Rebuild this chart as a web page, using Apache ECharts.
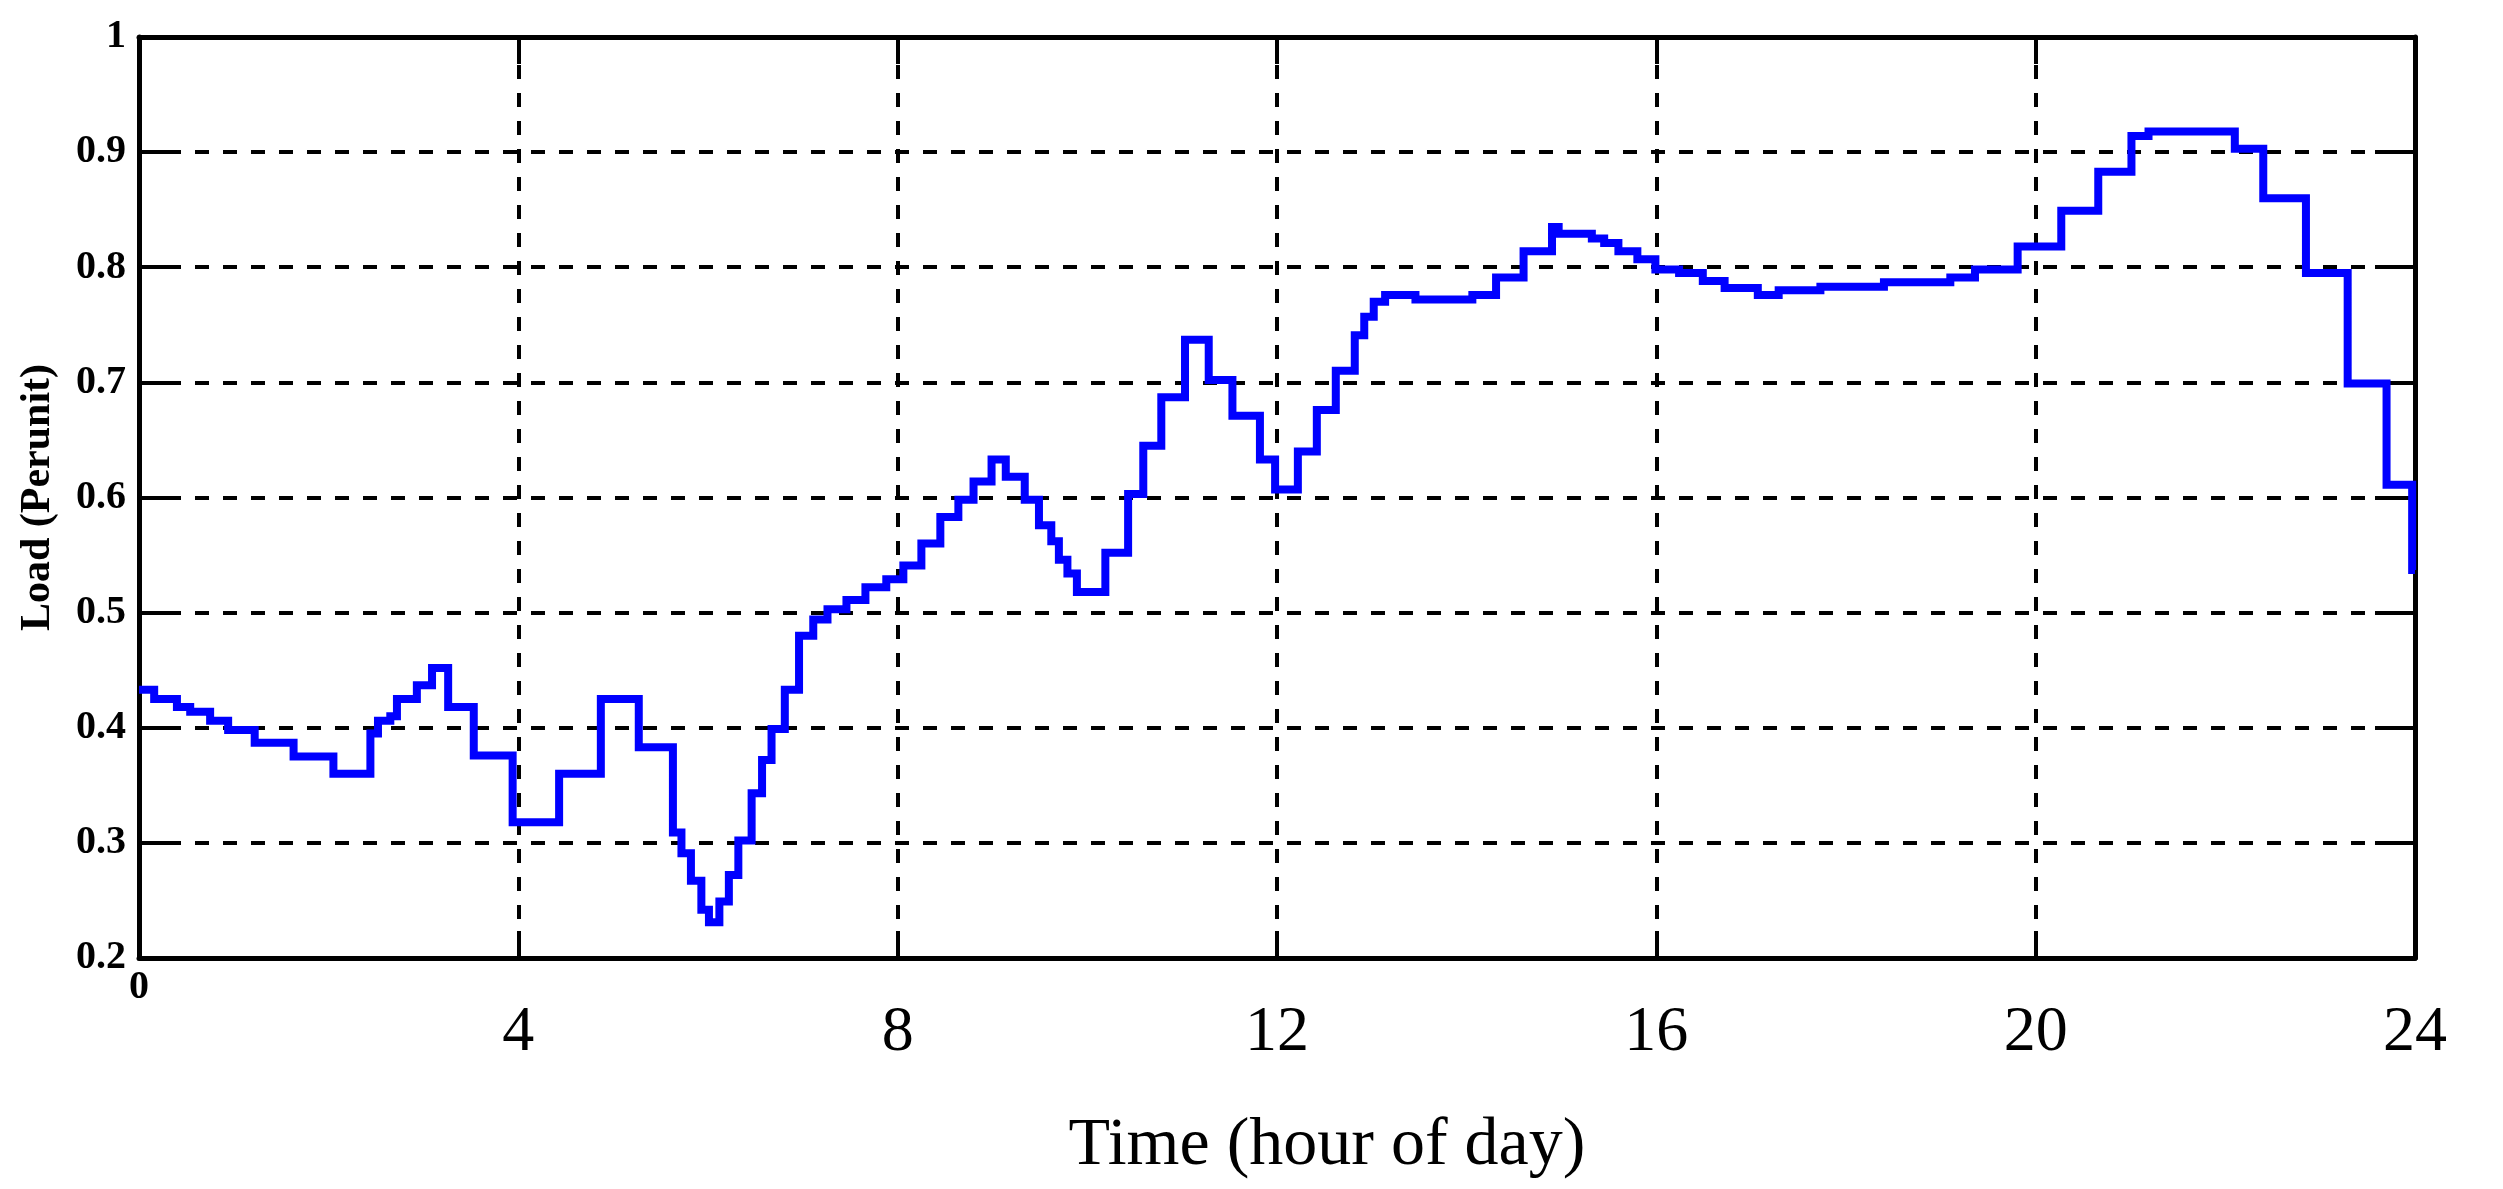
<!DOCTYPE html>
<html>
<head>
<meta charset="utf-8">
<title>Load profile</title>
<script src="https://cdn.jsdelivr.net/npm/echarts@6/dist/echarts.min.js"></script>
<style>
  html, body { margin: 0; padding: 0; background: #fff; }
  #chart { width: 2503px; height: 1189px; }
</style>
</head>
<body>
<div id="chart"></div>
<script>
  // hour at which each step starts, and the load held until the next hour
  const hours = [
    0, 0.16, 0.40, 0.54, 0.75, 0.94, 1.22, 1.63, 2.05, 2.44, 2.52, 2.65, 2.72, 2.93, 3.09, 3.26,
    3.53, 3.94, 4.43, 4.87, 5.27, 5.63, 5.72, 5.82, 5.93, 6.01, 6.12, 6.22, 6.32, 6.46, 6.57, 6.67,
    6.81, 6.96, 7.11, 7.26, 7.46, 7.66, 7.88, 8.06, 8.25, 8.45, 8.64, 8.80, 8.99, 9.14, 9.34, 9.49,
    9.62, 9.70, 9.79, 9.89, 10.19, 10.43, 10.59, 10.78, 11.03, 11.28, 11.53, 11.82, 11.98, 12.22,
    12.42, 12.62, 12.82, 12.92, 13.02, 13.14, 13.46, 14.06, 14.31, 14.60, 14.90, 14.97, 15.32, 15.45,
    15.60, 15.80, 15.99, 16.24, 16.49, 16.72, 17.07, 17.29, 17.73, 18.40, 19.10, 19.36, 19.81, 20.27,
    20.66, 21.01, 21.19, 22.10, 22.40, 22.85, 23.29, 23.70, 23.97, 24.00
  ];
  const loads = [
    0.433, 0.425, 0.418, 0.414, 0.406, 0.398, 0.387, 0.375, 0.360, 0.395, 0.406, 0.410, 0.425, 0.437, 0.452, 0.418,
    0.376, 0.318, 0.360, 0.425, 0.383, 0.309, 0.291, 0.267, 0.242, 0.231, 0.249, 0.272, 0.302, 0.343, 0.372, 0.399,
    0.433, 0.480, 0.494, 0.503, 0.511, 0.522, 0.529, 0.541, 0.560, 0.583, 0.598, 0.614, 0.633, 0.618, 0.598, 0.576,
    0.562, 0.546, 0.534, 0.518, 0.552, 0.603, 0.645, 0.687, 0.737, 0.702, 0.671, 0.633, 0.607, 0.640,
    0.676, 0.710, 0.741, 0.757, 0.770, 0.776, 0.772, 0.776, 0.791, 0.814, 0.835, 0.829, 0.825, 0.821,
    0.814, 0.807, 0.798, 0.795, 0.788, 0.782, 0.776, 0.780, 0.783, 0.787, 0.791, 0.798, 0.818, 0.849,
    0.883, 0.914, 0.918, 0.903, 0.860, 0.795, 0.699, 0.611, 0.537, 0.537
  ];
  const xTicks = [0, 4, 8, 12, 16, 20, 24];
  const yTicks = [0.2, 0.3, 0.4, 0.5, 0.6, 0.7, 0.8, 0.9, 1];

  const serif = '"Liberation Serif", "DejaVu Serif", serif';
  const gridLine = { show: true, lineStyle: { color: '#000', width: 4, type: [14, 14] } };
  const xRange = { type: 'value', min: xTicks[0], max: xTicks[xTicks.length - 1], interval: 4 };
  const yRange = { type: 'value', min: yTicks[0], max: yTicks[yTicks.length - 1], interval: 0.1 };

  // frame axis: line + short solid ticks pointing into the plot, nothing else.
  // onZero must be off, or the right axis snaps onto x = 0
  function frameAxis(range, position, tickLen) {
    return Object.assign({}, range, {
      position: position,
      axisLine: { show: true, onZero: false, lineStyle: { color: '#000', width: 5 } },
      axisTick: { show: true, inside: true, length: tickLen, lineStyle: { color: '#000', width: 4 } },
      splitLine: { show: false },
      axisLabel: { show: false },
    });
  }

  const chart = echarts.init(document.getElementById('chart'));
  chart.setOption({
    backgroundColor: '#fff',
    animation: false,
    grid: { left: 139, right: 88, top: 37, bottom: 231 },
    xAxis: [
      Object.assign({}, xRange, {
        position: 'bottom',
        axisLine: { show: false, onZero: false },
        axisTick: { show: false },
        splitLine: gridLine,
        axisLabel: {
          margin: 43,
          color: '#000',
          fontFamily: serif,
          fontSize: 64,
          formatter: (v) => (v === 0 ? '' : String(v)),
        },
        name: 'Time (hour of day)',
        nameLocation: 'middle',
        nameGap: 154,
        nameTextStyle: { color: '#000', fontFamily: serif, fontSize: 68, padding: [0, 0, 0, 100] },
      }),
      // small bold "0" at the origin
      Object.assign({}, xRange, {
        position: 'bottom',
        axisLine: { show: false, onZero: false },
        axisTick: { show: false },
        splitLine: { show: false },
        axisLabel: {
          margin: 10,
          color: '#000',
          fontFamily: serif,
          fontWeight: 'bold',
          fontSize: 40,
          formatter: (v) => (v === 0 ? '0' : ''),
        },
      }),
      frameAxis(xRange, 'bottom', 27),
      frameAxis(xRange, 'top', 27),
    ],
    yAxis: [
      Object.assign({}, yRange, {
        position: 'left',
        axisLine: { show: false, onZero: false },
        axisTick: { show: false },
        splitLine: gridLine,
        axisLabel: {
          margin: 13,
          color: '#000',
          fontFamily: serif,
          fontWeight: 'bold',
          fontSize: 40,
        },
        name: 'Load (Perunit)',
        nameLocation: 'middle',
        nameGap: 80,
        nameTextStyle: { color: '#000', fontFamily: serif, fontWeight: 'bold', fontSize: 42 },
      }),
      frameAxis(yRange, 'left', 40),
      frameAxis(yRange, 'right', 40),
    ],
    series: [
      {
        type: 'line',
        step: 'end',
        xAxisIndex: 0,
        yAxisIndex: 0,
        showSymbol: false,
        data: hours.map((h, i) => [h, loads[i]]),
        lineStyle: { color: '#0000ff', width: 8, join: 'miter' },
        z: 5,
      },
    ],
  });
</script>
</body>
</html>
